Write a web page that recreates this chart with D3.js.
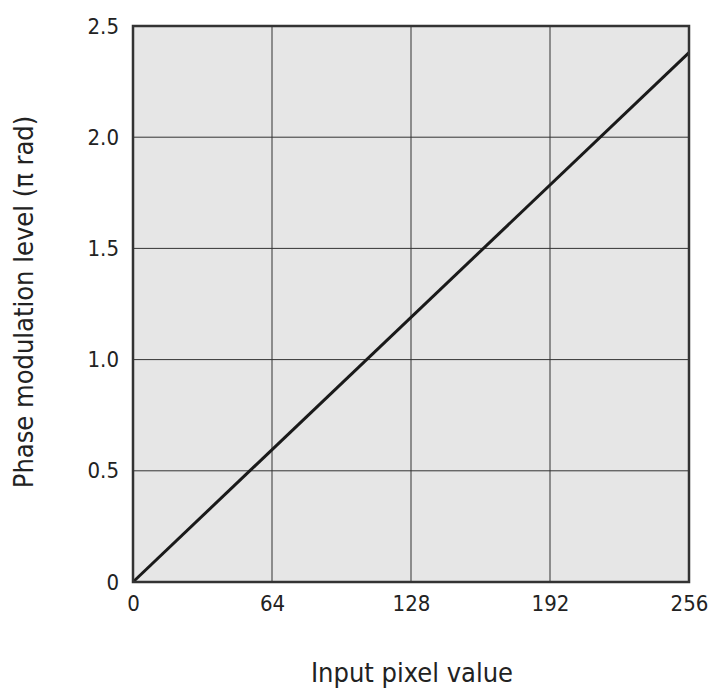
<!DOCTYPE html>
<html>
<head>
<meta charset="utf-8">
<script src="https://cdn.jsdelivr.net/npm/d3@7"></script>
<style>
  body { margin: 0; background: #fff; }
  svg { display: block; }
</style>
</head>
<body>
<svg id="chart" width="712" height="689"></svg>
<script>
// Phase response: input pixel value vs. phase modulation (units of π rad)
const inputValues = [0, 256];
const phaseValues = [0, 2.38];
const xTicks = [0, 64, 128, 192, 256];
const yTicks = [0, 0.5, 1.0, 1.5, 2.0, 2.5];
const yTickLabels = ["0", "0.5", "1.0", "1.5", "2.0", "2.5"];

const svg = d3.select("#chart");
const m = { left: 133, top: 26, right: 689, bottom: 582 };
const font = "Tahoma, 'DejaVu Sans Condensed', 'DejaVu Sans', sans-serif";

const x = d3.scaleLinear().domain([0, 256]).range([m.left, m.right]);
const y = d3.scaleLinear().domain([0, 2.5]).range([m.bottom, m.top]);

// plot background
svg.append("rect")
  .attr("x", m.left).attr("y", m.top)
  .attr("width", m.right - m.left).attr("height", m.bottom - m.top)
  .attr("fill", "#e6e6e6");

// grid lines
svg.append("g").selectAll("line").data(xTicks.slice(1, -1)).join("line")
  .attr("x1", d => x(d)).attr("x2", d => x(d))
  .attr("y1", m.top).attr("y2", m.bottom)
  .attr("stroke", "#333").attr("stroke-width", 1);
svg.append("g").selectAll("line").data(yTicks.slice(1, -1)).join("line")
  .attr("x1", m.left).attr("x2", m.right)
  .attr("y1", d => y(d)).attr("y2", d => y(d))
  .attr("stroke", "#333").attr("stroke-width", 1);

// data line
const line = d3.line().x((d, i) => x(inputValues[i])).y(d => y(d));
svg.append("path")
  .datum(phaseValues)
  .attr("d", line)
  .attr("fill", "none")
  .attr("stroke", "#1a1a1a")
  .attr("stroke-width", 3);

// frame
svg.append("rect")
  .attr("x", m.left).attr("y", m.top)
  .attr("width", m.right - m.left).attr("height", m.bottom - m.top)
  .attr("fill", "none").attr("stroke", "#333").attr("stroke-width", 2.5);

// axes (labels only)
const xAxis = d3.axisBottom(x).tickValues(xTicks).tickSize(0).tickPadding(13);
const gx = svg.append("g").attr("transform", `translate(0,${m.bottom})`).call(xAxis);
gx.select(".domain").remove();
gx.selectAll("text").attr("font-family", font).attr("font-size", 22).attr("fill", "#222");

const yAxis = d3.axisLeft(y).tickValues(yTicks).tickFormat((d, i) => yTickLabels[i]).tickSize(0).tickPadding(14);
const gy = svg.append("g").attr("transform", `translate(${m.left},0)`).call(yAxis);
gy.select(".domain").remove();
gy.selectAll("text").attr("font-family", font).attr("font-size", 22).attr("fill", "#222");

// axis titles
svg.append("text")
  .attr("x", 412).attr("y", 682)
  .attr("text-anchor", "middle")
  .attr("font-family", font).attr("font-size", 27).attr("fill", "#222")
  .text("Input pixel value");
svg.append("text")
  .attr("transform", "translate(33,302) rotate(-90)")
  .attr("text-anchor", "middle")
  .attr("font-family", font).attr("font-size", 27).attr("fill", "#222")
  .text("Phase modulation level (π rad)");
</script>
</body>
</html>
